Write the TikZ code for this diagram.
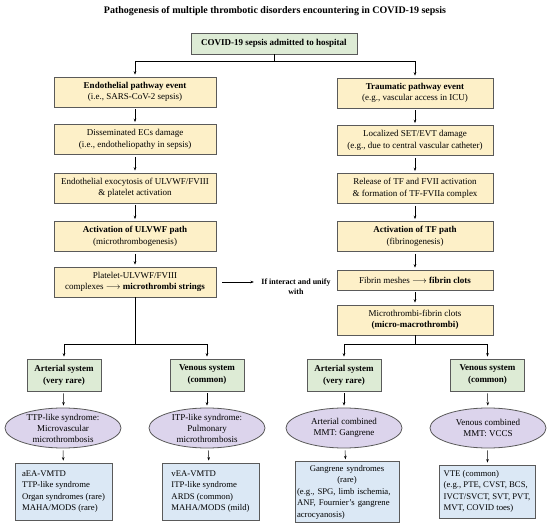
\documentclass[tikz,border=0pt]{standalone}
\usepackage{fontspec}
\setmainfont{Liberation Serif}
\usepackage{xcolor}
\usetikzlibrary{arrows.meta,shapes.geometric}
\definecolor{edgegray}{HTML}{5A5A5A}
\definecolor{paleyellow}{HTML}{FDF0C8}
\definecolor{palegreen}{HTML}{DDEBD5}
\definecolor{palepurple}{HTML}{DCD4EC}
\definecolor{paleblue}{HTML}{DBE8F5}

\begin{document}
\begin{tikzpicture}[x=1pt,y=-1pt,
  every node/.style={font=\fontsize{9}{11.5}\selectfont},
  box/.style={draw=edgegray,line width=0.8pt,inner sep=2pt,align=center},
  ybox/.style={box,fill=paleyellow,minimum width=162pt,minimum height=30pt},
  rbox/.style={ybox,minimum width=156pt},
  gbox/.style={box,fill=palegreen,minimum width=74pt,minimum height=32pt,
    font=\fontsize{9}{12}\selectfont\bfseries},
  ell/.style={draw=edgegray,line width=0.8pt,fill=palepurple,ellipse,
    minimum width=116pt,minimum height=40pt,inner sep=0pt},
  elltext/.style={align=center,font=\fontsize{9}{11}\selectfont},
  bbox/.style={draw=edgegray,line width=0.8pt,fill=paleblue,inner xsep=3pt,
    font=\fontsize{8.7}{11.5}\selectfont},
  link/.style={line width=0.5pt,-{Stealth[length=3.5pt,width=2.6pt]},
    shorten >=2pt,shorten <=2pt},
  wire/.style={line width=0.5pt}]

\useasboundingbox (0,0) rectangle (550,532);

\node[font=\fontsize{10}{12}\selectfont\bfseries] (title) at (275,11)
  {Pathogenesis of multiple thrombotic disorders encountering in COVID-19 sepsis};
\node[box,fill=palegreen,minimum width=166pt,minimum height=21pt,
  font=\fontsize{9}{11.5}\selectfont\bfseries] (admit) at (274,43.5)
  {COVID-19 sepsis admitted to hospital};

% endothelial side
\node[ybox] (endo) at (135,92) {\textbf{Endothelial pathway event}\\(i.e., SARS-CoV-2 sepsis)};
\node[ybox] (ecs) at (135,139.5) {Disseminated ECs damage\\(i.e., endotheliopathy in sepsis)};
\node[ybox] (exo) at (135,188) {Endothelial exocytosis of ULVWF/FVIII\\\& platelet activation};
\node[ybox] (ulvwf) at (135,236.5) {\textbf{Activation of ULVWF path}\\(microthrombogenesis)};
\node[ybox] (plt) at (135,282) {Platelet-ULVWF/FVIII\\complexes $\longrightarrow$ \textbf{microthrombi strings}};

% traumatic side
\node[rbox] (trauma) at (415,93) {\textbf{Traumatic pathway event}\\(e.g., vascular access in ICU)};
\node[rbox] (set) at (415,140.5) {Localized SET/EVT damage\\(e.g., due to central vascular catheter)};
\node[rbox] (tf) at (415,188.5) {Release of TF and FVII activation\\\& formation of TF-FVIIa complex};
\node[rbox] (tfpath) at (415,236.5) {\textbf{Activation of TF path}\\(fibrinogenesis)};
\node[rbox,minimum height=20pt] (fibrin) at (415,280) {Fibrin meshes $\longrightarrow$ \textbf{fibrin clots}};
\node[rbox] (mmt) at (415,320) {Microthrombi-fibrin clots\\\textbf{(micro-macrothrombi)}};

\node[align=center,font=\fontsize{8}{10}\selectfont\bfseries] (unify) at (296,287)
  {If interact and unify\\with};

% vascular systems
\node[gbox] (artL) at (64,375) {Arterial system\\(very rare)};
\node[gbox] (venL) at (207,375) {Venous system\\(common)};
\node[gbox] (artR) at (344,375) {Arterial system\\(very rare)};
\node[gbox] (venR) at (487.5,375) {Venous system\\(common)};

\node[ell] (ttp) at (63,428) {};
\node[elltext] (ttp-t) at (ttp) {TTP-like syndrome:\\Microvascular\\microthrombosis};
\node[ell] (itp) at (207,428) {};
\node[elltext] (itp-t) at (itp) {ITP-like syndrome:\\Pulmonary\\microthrombosis};
\node[ell] (gmmt) at (344,428) {};
\node[elltext] (gmmt-t) at (gmmt) {Arterial combined\\MMT: Gangrene};
\node[ell] (vmmt) at (488,428) {};
\node[elltext] (vmmt-t) at (vmmt) {Venous combined\\MMT: VCCS};

\node[bbox,align=left,minimum width=97pt,minimum height=57pt] (aea) at (63.5,491.5)
  {aEA-VMTD\\TTP-like syndrome\\Organ syndromes (rare)\\MAHA/MODS (rare)};
\node[bbox,align=left,minimum width=97pt,minimum height=57pt] (vea) at (210.5,491.5)
  {vEA-VMTD\\ITP-like syndrome\\ARDS (common)\\MAHA/MODS (mild)};
\node[bbox,inner xsep=2pt,text width=100pt,minimum height=58pt] (gang) at (347,492)
  {{\centering Gangrene syndromes\\(rare)\par}\raggedright
   (e.g., SPG, limb ischemia,\\ANF, Fournier's gangrene\\acrocyanosis)};
\node[bbox,align=left,minimum width=96pt,minimum height=53pt] (vte) at (487,491.5)
  {VTE (common)\\(e.g., PTE, CVST, BCS,\\IVCT/SVCT, SVT, PVT,\\MVT, COVID toes)};

% connectors
\coordinate (topfork) at (274,61);
\coordinate (lfork) at (135,344);
\coordinate (rfork) at (415,344);

\draw[wire] (admit) -- (topfork);
\draw[link,shorten <=0pt] (topfork) -| (endo);
\draw[link,shorten <=0pt] (topfork) -| (trauma);

\draw[link] (endo) -- (ecs);
\draw[link] (ecs) -- (exo);
\draw[link] (exo) -- (ulvwf);
\draw[link] (ulvwf) -- (plt);
\draw[link] (trauma) -- (set);
\draw[link] (set) -- (tf);
\draw[link] (tf) -- (tfpath);
\draw[link] (tfpath) -- (fibrin);
\draw[link] (fibrin) -- (mmt);

\draw[link,shorten <=6pt,shorten >=4pt] (plt.east) -- (plt.east -| unify.west);

\draw[wire] (plt) -- (lfork);
\draw[link,shorten <=0pt] (lfork) -| (artL);
\draw[link,shorten <=0pt] (lfork) -| (venL);
\draw[wire] (mmt) -- (rfork);
\draw[link,shorten <=0pt] (rfork) -| (artR);
\draw[link,shorten <=0pt] (rfork) -| (venR);

\draw[link] (artL) -- (ttp);
\draw[link] (venL) -- (itp);
\draw[link] (artR) -- (gmmt);
\draw[link] (venR) -- (vmmt);
\draw[link] (ttp) -- (aea);
\draw[link] (itp) -- (vea);
\draw[link] (gmmt) -- (gang);
\draw[link] (vmmt) -- (vte);
\end{tikzpicture}
\end{document}
